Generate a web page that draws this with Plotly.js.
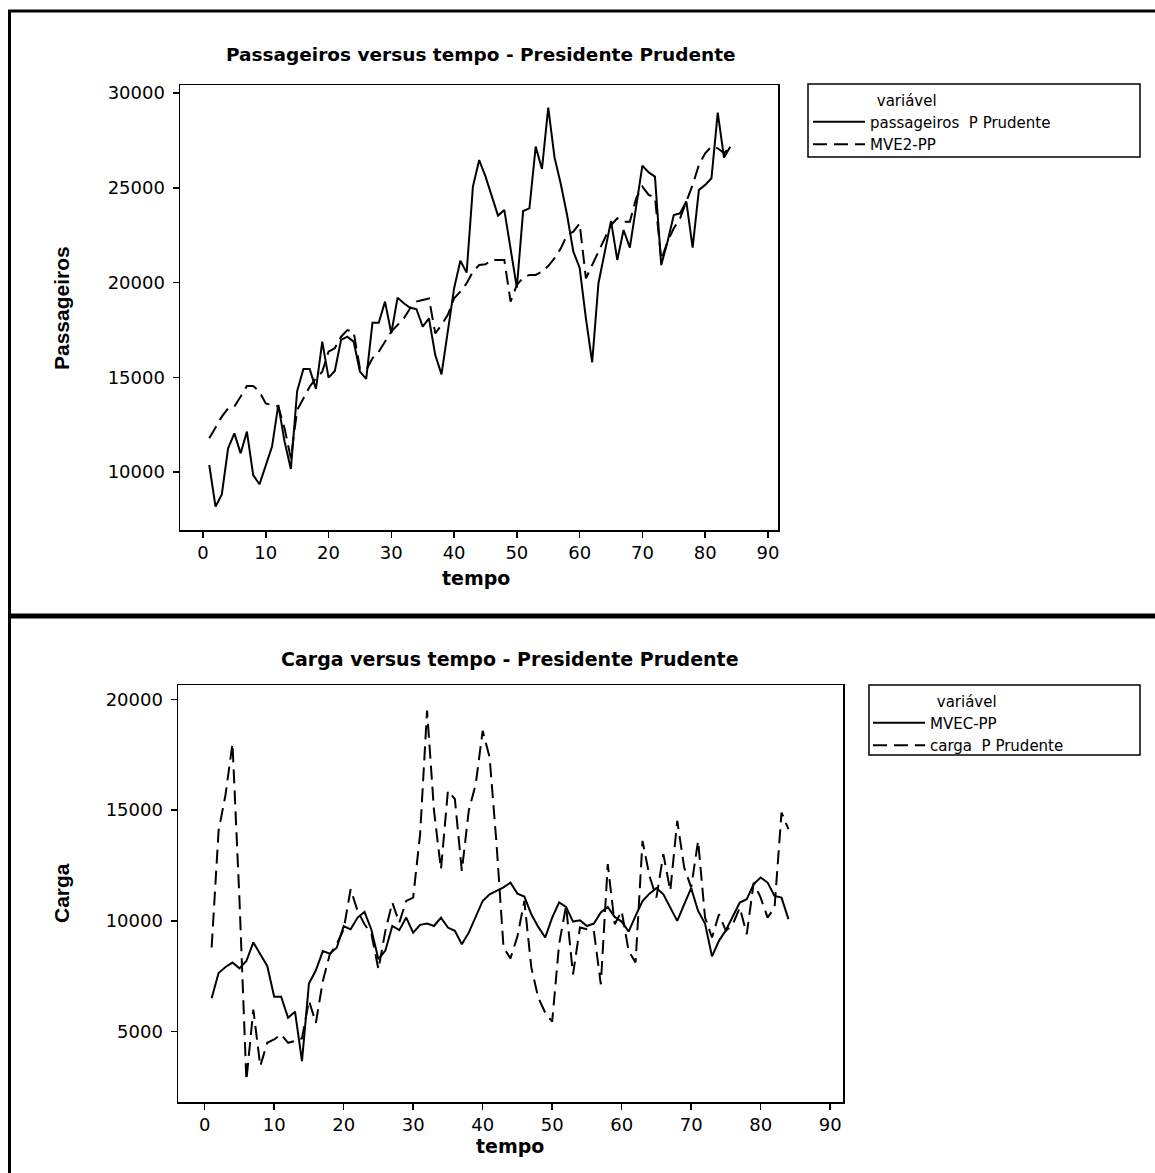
<!DOCTYPE html>
<html>
<head>
<meta charset="utf-8">
<script src="https://cdn.plot.ly/plotly-3.0.1.min.js"></script>
<style>html,body{margin:0;padding:0;background:#fff}#chart{width:1155px;height:1173px}</style>
</head>
<body>
<div id="chart"></div>
<script>
// ---- data ----
const tempo = [1,2,3,4,5,6,7,8,9,10,11,12,13,14,15,16,17,18,19,20,21,22,23,24,25,26,27,28,29,30,31,32,33,34,35,36,37,38,39,40,41,42,43,44,45,46,47,48,49,50,51,52,53,54,55,56,57,58,59,60,61,62,63,64,65,66,67,68,69,70,71,72,73,74,75,76,77,78,79,80,81,82,83,84];

const passageirosPP = [10370,8170,8820,11250,12040,10985,12130,9840,9350,10320,
  11340,13540,11600,10160,14270,15430,15430,14380,16880,14980,
  15330,16970,17140,16880,15300,14910,17880,17880,18990,17320,
  19200,18900,18670,18600,17670,18110,16170,15150,17400,19690,
  21150,20520,25060,26460,25600,24620,23530,23830,21800,19730,
  23770,23910,27170,25990,29230,26600,25200,23560,21630,20780,
  18110,15790,19960,21630,23250,21190,22770,21840,24090,26170,
  25810,25590,20920,22150,23560,23650,24270,21840,24880,25150,
  25500,28960,26590,27170];

const mve2PP = [11780,12390,12920,13360,13450,13980,14540,14540,14240,13620,
  13540,13450,12300,10720,13270,13890,14500,14940,15290,16350,
  16530,17140,17490,17400,15470,15380,16000,16350,16880,17410,
  17760,18110,18640,18990,19080,19160,17320,17760,18290,19160,
  19520,19960,20570,20920,20960,21190,21190,21190,18990,19870,
  20250,20400,20400,20570,20870,21280,21800,22510,22680,23120,
  20220,20920,21630,22330,23030,23390,23210,23210,24440,25060,
  24620,24500,21200,22150,22860,23390,24270,25150,26200,26820,
  27170,27080,26820,27170];

const mvecPP = [6506,7650,7920,8120,7860,8190,9030,8470,7970,6580,
  6580,5630,5900,3670,7170,7770,8640,8520,8790,9760,
  9620,10150,10410,9590,8270,8660,9770,9580,10150,9470,
  9820,9880,9770,10150,9700,9550,8950,9470,10150,10900,
  11200,11360,11510,11730,11230,11100,10300,9730,9250,10150,
  10830,10630,9970,10030,9770,9880,10380,10630,10180,9970,
  9520,10230,10900,11230,11480,11200,10600,10000,10750,11480,
  10450,9880,8400,9100,9580,10230,10830,10980,11660,11960,
  11730,11130,11050,10080];

const cargaPP = [8800,14070,15700,18000,11000,2800,6000,3450,4500,4650,
  4880,4500,4580,4700,6400,5400,7290,8490,8950,9620,
  11430,10450,9850,9400,7820,9550,10830,9920,10900,11050,
  13920,19490,14970,12330,15870,15500,12260,14970,16170,18580,
  17380,13460,8800,8310,9300,10900,7900,6540,5860,5450,
  8950,10680,7590,9700,9620,9550,7140,12560,9850,10450,
  8640,8120,13610,12030,11050,13010,11360,14520,12410,11510,
  13610,10150,9250,10300,9550,9850,10600,9400,11730,11050,
  10150,10600,14890,14140];

const tickTempo = [0,10,20,30,40,50,60,70,80,90];
const tickPassageiros = [10000,15000,20000,25000,30000];
const tickCarga = [5000,10000,15000,20000];

const nomePassageiros = 'passageiros  P Prudente';
const nomeMVE2 = 'MVE2-PP';
const nomeMVEC = 'MVEC-PP';
const nomeCarga = 'carga  P Prudente';
const tituloLegenda = 'variável';

// ---- layout helpers ----
const W = 1155, H = 1173;
const fx = x => x / W;
const fy = y => 1 - y / H;
const FONT = 'DejaVu Sans, Verdana, sans-serif';
const NARROW = 'Liberation Sans Narrow, Arial Narrow, Liberation Sans, Arial, sans-serif';

const solid = {color: '#000', width: 2, dash: 'solid'};
const dashed = {color: '#000', width: 2, dash: '14px,7px'};

const traces = [
  {x: tempo, y: passageirosPP, type: 'scatter', mode: 'lines', name: nomePassageiros,
   line: solid, xaxis: 'x', yaxis: 'y', legend: 'legend'},
  {x: tempo, y: mve2PP, type: 'scatter', mode: 'lines', name: nomeMVE2,
   line: dashed, xaxis: 'x', yaxis: 'y', legend: 'legend'},
  {x: tempo, y: mvecPP, type: 'scatter', mode: 'lines', name: nomeMVEC,
   line: solid, xaxis: 'x2', yaxis: 'y2', legend: 'legend2'},
  {x: tempo, y: cargaPP, type: 'scatter', mode: 'lines', name: nomeCarga,
   line: dashed, xaxis: 'x2', yaxis: 'y2', legend: 'legend2'}
];

const axisCommon = {
  showgrid: false, zeroline: false, showline: true, mirror: true,
  linecolor: '#000', linewidth: 1.5, ticks: 'outside', ticklen: 6,
  tickwidth: 1.5, tickcolor: '#000',
  tickfont: {family: FONT, size: 18, color: '#000'}
};

const pad = '\u00a0'.repeat(14);
const legendCommon = {
  bgcolor: 'rgba(0,0,0,0)', borderwidth: 0,
  xanchor: 'left', yanchor: 'top', itemwidth: 52,
  font: {family: FONT, size: 15, color: '#000'},
  title: {text: pad + tituloLegenda, font: {family: FONT, size: 15, color: '#000'}},
  tracegroupgap: 0, itemclick: false
};

const layout = {
  width: W, height: H,
  margin: {l: 0, r: 0, t: 0, b: 0},
  paper_bgcolor: '#fff', plot_bgcolor: '#fff',
  showlegend: true,
  xaxis: Object.assign({}, axisCommon, {domain: [fx(180), fx(778)], range: [-3.66, 91.6],
    tickvals: tickTempo, ticktext: tickTempo.map(String), anchor: 'y'}),
  yaxis: Object.assign({}, axisCommon, {domain: [fy(530), fy(85)], range: [6939, 30422],
    tickvals: tickPassageiros, ticktext: tickPassageiros.map(String), anchor: 'x', ticklabelstandoff: 4}),
  xaxis2: Object.assign({}, axisCommon, {domain: [fx(178), fx(843)], range: [-3.84, 91.85],
    tickvals: tickTempo, ticktext: tickTempo.map(String), anchor: 'y2'}),
  yaxis2: Object.assign({}, axisCommon, {domain: [fy(1102), fy(685)], range: [1828, 20645],
    tickvals: tickCarga, ticktext: tickCarga.map(String), anchor: 'x2', ticklabelstandoff: 4}),
  legend: Object.assign({}, legendCommon, {x: fx(808), y: fy(86)}),
  legend2: Object.assign({}, legendCommon, {x: fx(868), y: fy(687)}),
  annotations: [
    {text: '<b>Passageiros versus tempo - Presidente Prudente</b>', x: fx(481), y: fy(55),
     xref: 'paper', yref: 'paper', showarrow: false, xanchor: 'center', yanchor: 'middle',
     font: {family: FONT, size: 18.5, color: '#000'}},
    {text: '<b>Carga versus tempo - Presidente Prudente</b>', x: fx(510), y: fy(659),
     xref: 'paper', yref: 'paper', showarrow: false, xanchor: 'center', yanchor: 'middle',
     font: {family: FONT, size: 19, color: '#000'}},
    {text: '<b>tempo</b>', x: fx(476), y: fy(578), xref: 'paper', yref: 'paper', showarrow: false,
     xanchor: 'center', yanchor: 'middle', font: {family: FONT, size: 19, color: '#000'}},
    {text: '<b>tempo</b>', x: fx(510), y: fy(1146), xref: 'paper', yref: 'paper', showarrow: false,
     xanchor: 'center', yanchor: 'middle', font: {family: FONT, size: 19, color: '#000'}},
    {text: '<b>Passageiros</b>', x: fx(61), y: fy(308), xref: 'paper', yref: 'paper', showarrow: false,
     textangle: -90, xanchor: 'center', yanchor: 'middle', font: {family: NARROW, size: 21, color: '#000'}},
    {text: '<b>Carga</b>', x: fx(61), y: fy(893), xref: 'paper', yref: 'paper', showarrow: false,
     textangle: -90, xanchor: 'center', yanchor: 'middle', font: {family: NARROW, size: 21, color: '#000'}}
  ],
  shapes: [
    {type: 'line', xref: 'paper', yref: 'paper', x0: fx(8), x1: 1, y0: fy(11), y1: fy(11), line: {color: '#000', width: 3}},
    {type: 'line', xref: 'paper', yref: 'paper', x0: fx(9.5), x1: fx(9.5), y0: fy(10), y1: 0, line: {color: '#000', width: 3}},
    {type: 'line', xref: 'paper', yref: 'paper', x0: fx(8), x1: 1, y0: fy(616), y1: fy(616), line: {color: '#000', width: 5}},
    {type: 'rect', xref: 'paper', yref: 'paper', x0: fx(808), x1: fx(1140), y0: fy(157), y1: fy(84), line: {color: '#000', width: 1.5}},
    {type: 'rect', xref: 'paper', yref: 'paper', x0: fx(869), x1: fx(1140), y0: fy(755), y1: fy(685), line: {color: '#000', width: 1.5}}
  ]
};

Plotly.newPlot('chart', traces, layout, {staticPlot: true, displayModeBar: false});
</script>
</body>
</html>
